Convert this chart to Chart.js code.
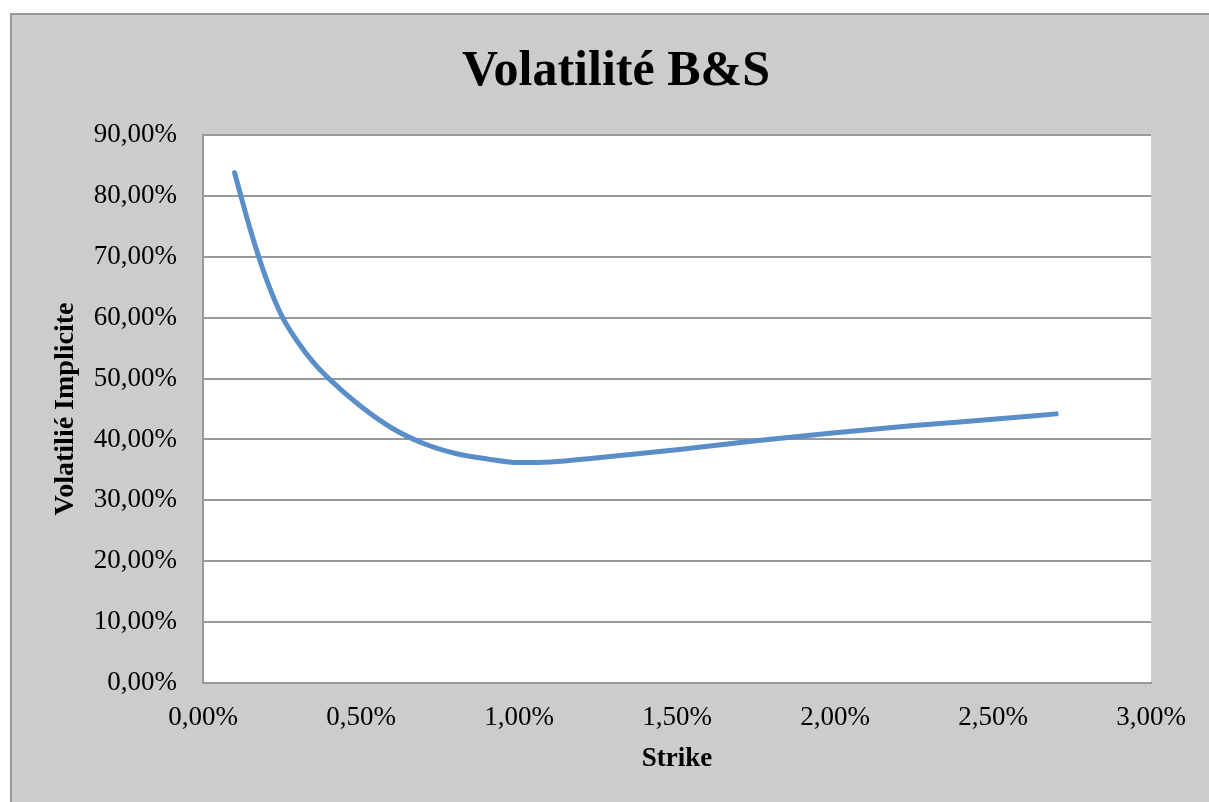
<!DOCTYPE html>
<html>
<head>
<meta charset="utf-8">
<script src="https://cdn.jsdelivr.net/npm/chart.js@4"></script>
<style>
html,body{margin:0;padding:0;background:#ffffff;overflow:hidden;}
#wrap{position:absolute;left:0;top:0;width:1209px;height:802px;}
</style>
</head>
<body>
<div id="wrap"><canvas id="c" width="1209" height="802"></canvas></div>
<script>
// ---- data (percent units) ----
const chartTitle = 'Volatilité B&S';
const xAxisTitle = 'Strike';
const yAxisTitle = 'Volatilié Implicite';
const strikes = [0.10, 0.15, 0.20, 0.25, 0.30, 0.35, 0.40, 0.50, 0.60, 0.70, 0.80, 0.90, 1.00, 1.10, 1.25, 1.50, 1.75, 2.00, 2.25, 2.50, 2.70];
const impliedVol = [83.8, 74.4, 66.4, 60.2, 56.0, 52.6, 49.9, 45.4, 41.8, 39.3, 37.7, 36.8, 36.2, 36.3, 37.0, 38.3, 39.8, 41.1, 42.3, 43.3, 44.2];
const xTickLabels = ['0,00%', '0,50%', '1,00%', '1,50%', '2,00%', '2,50%', '3,00%'];
const yTickLabels = ['0,00%', '10,00%', '20,00%', '30,00%', '40,00%', '50,00%', '60,00%', '70,00%', '80,00%', '90,00%'];

const points = strikes.map((s, i) => ({x: s, y: impliedVol[i]}));

const bgPlugin = {
  id: 'bg',
  beforeDraw(chart) {
    const ctx = chart.ctx;
    const ca = chart.chartArea;
    ctx.save();
    ctx.fillStyle = '#ffffff';
    ctx.fillRect(0, 0, chart.width, chart.height);
    ctx.fillStyle = '#cccccc';
    ctx.fillRect(10, 13, chart.width, chart.height);
    ctx.strokeStyle = '#9a9a9a';
    ctx.lineWidth = 2;
    ctx.strokeRect(11, 14, chart.width + 20, chart.height + 20);
    ctx.fillStyle = '#ffffff';
    ctx.fillRect(ca.left, ca.top, ca.right - ca.left, ca.bottom - ca.top);
    ctx.restore();
  },
  afterDraw(chart) {
    const ctx = chart.ctx;
    ctx.save();
    ctx.font = 'bold 50px "Liberation Serif", serif';
    ctx.fillStyle = '#000000';
    ctx.textAlign = 'center';
    ctx.textBaseline = 'middle';
    ctx.fillText(chartTitle, 616, 72);
    ctx.restore();
  }
};

new Chart(document.getElementById('c'), {
  type: 'line',
  data: {
    datasets: [{
      data: points,
      borderColor: '#5a8ec9',
      borderWidth: 5,
      borderCapStyle: 'round',
      borderJoinStyle: 'round',
      pointRadius: 0,
      fill: false,
      cubicInterpolationMode: 'monotone'
    }]
  },
  options: {
    responsive: false,
    animation: false,
    devicePixelRatio: 1,
    layout: {padding: {top: 135, left: 13, right: 58, bottom: 27}},
    plugins: {
      legend: {display: false},
      title: {display: false},
      tooltip: {enabled: false}
    },
    scales: {
      x: {
        type: 'linear',
        min: 0, max: 3,
        afterFit: (scale) => { scale.height = 92; },
        ticks: {
          stepSize: 0.5,
          padding: 19,
          color: '#000000',
          font: {family: '"Liberation Serif", serif', size: 27},
          maxRotation: 0,
          callback: (v) => xTickLabels[Math.round(v / 0.5)]
        },
        grid: {display: false, drawTicks: false},
        border: {display: true, color: '#999999', width: 2},
        title: {
          display: true,
          text: xAxisTitle,
          color: '#000000',
          font: {family: '"Liberation Serif", serif', size: 27, weight: 'bold'},
          padding: {top: 0, bottom: 0}
        }
      },
      y: {
        type: 'linear',
        min: 0, max: 90,
        afterFit: (scale) => { scale.width = 190; },
        ticks: {
          stepSize: 10,
          padding: 26,
          color: '#000000',
          font: {family: '"Liberation Serif", serif', size: 27},
          callback: (v) => yTickLabels[Math.round(v / 10)]
        },
        grid: {color: '#999999', lineWidth: 2, drawTicks: false},
        border: {display: true, color: '#999999', width: 2},
        title: {
          display: true,
          text: yAxisTitle,
          color: '#000000',
          font: {family: '"Liberation Serif", serif', size: 28, weight: 'bold'},
          padding: {top: 36, bottom: 0}
        }
      }
    }
  },
  plugins: [bgPlugin]
});
</script>
</body>
</html>
